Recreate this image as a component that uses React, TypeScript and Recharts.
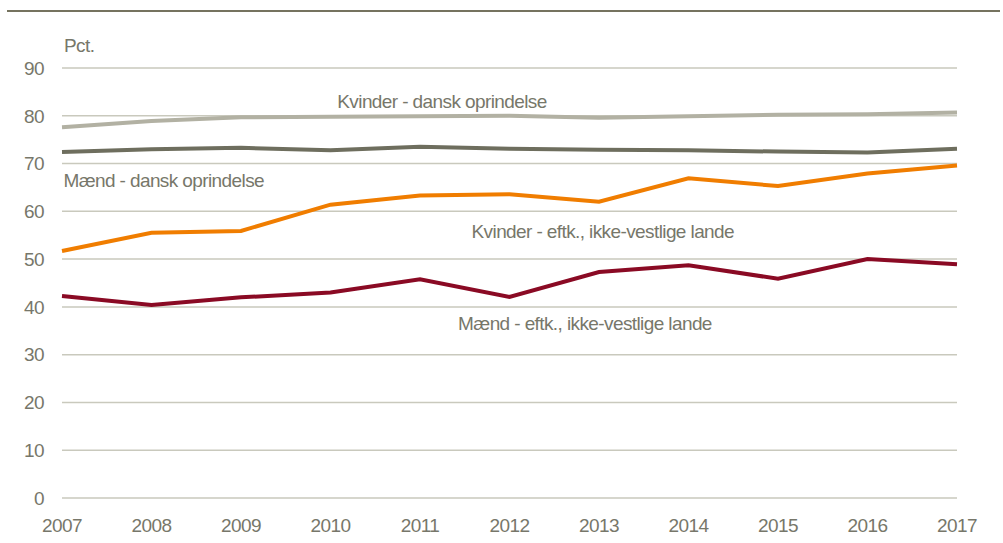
import { LineChart, Line, XAxis, YAxis, CartesianGrid, ReferenceDot } from "recharts";

const years = [2007, 2008, 2009, 2010, 2011, 2012, 2013, 2014, 2015, 2016, 2017];
const kvinderDansk = [77.6, 78.9, 79.7, 79.8, 79.9, 80.0, 79.6, 79.9, 80.2, 80.3, 80.7];
const maendDansk = [72.4, 73.0, 73.3, 72.8, 73.5, 73.1, 72.9, 72.8, 72.5, 72.3, 73.1];
const kvinderIkkeVest = [51.7, 55.5, 55.9, 61.4, 63.3, 63.6, 62.0, 66.9, 65.3, 67.9, 69.6];
const maendIkkeVest = [42.3, 40.4, 42.0, 43.0, 45.8, 42.1, 47.3, 48.7, 45.9, 50.0, 48.9];
const yTicks = [0, 10, 20, 30, 40, 50, 60, 70, 80, 90];

const seriesLabels = [
  { text: "Kvinder - dansk oprindelse", x: 2010.02, y: 83.1 },
  { text: "Mænd - dansk oprindelse", x: 2006.96, y: 66.6 },
  { text: "Kvinder - eftk., ikke-vestlige lande", x: 2011.52, y: 55.9 },
  { text: "Mænd - eftk., ikke-vestlige lande", x: 2011.37, y: 36.6 },
];

const data = years.map((year, i) => ({
  year,
  kd: kvinderDansk[i],
  md: maendDansk[i],
  kv: kvinderIkkeVest[i],
  mv: maendIkkeVest[i],
}));

const font = "'Liberation Sans Narrow', 'Arial Narrow', 'Liberation Sans', sans-serif";
const textGray = "#77776a";
const tightText = { fill: textGray, fontSize: 19, fontFamily: font, letterSpacing: -0.6 };

export default function App() {
  return (
    <div style={{ position: "absolute", left: 0, top: 0, width: 1003, height: 543, background: "#fff", fontFamily: font }}>
      <div style={{ position: "absolute", left: 7, right: 3, top: 10, height: 2, background: "#75735f" }} />
      <div style={{ position: "absolute", left: 64, top: 35, fontSize: 19, letterSpacing: -0.6, color: textGray }}>Pct.</div>
      <LineChart width={1003} height={543} data={data} margin={{ top: 68, right: 46, bottom: 0, left: 12 }}>
        <CartesianGrid vertical={false} stroke="#c9c9bd" strokeWidth={1.5} />
        <XAxis
          dataKey="year"
          type="number"
          domain={[2007, 2017]}
          ticks={years}
          axisLine={false}
          tickLine={false}
          height={45}
          tick={tightText}
          tickMargin={15}
        />
        <YAxis
          domain={[0, 90]}
          ticks={yTicks}
          axisLine={false}
          tickLine={false}
          width={50}
          tick={tightText}
          tickMargin={12}
        />
        <Line dataKey="kd" stroke="#b2b1a3" strokeWidth={4} dot={false} isAnimationActive={false} />
        <Line dataKey="md" stroke="#6e6e5e" strokeWidth={4} dot={false} isAnimationActive={false} />
        <Line dataKey="kv" stroke="#f07d00" strokeWidth={4} dot={false} isAnimationActive={false} />
        <Line dataKey="mv" stroke="#8a0a24" strokeWidth={4} dot={false} isAnimationActive={false} />
        {seriesLabels.map((l) => (
          <ReferenceDot
            key={l.text}
            x={l.x}
            y={l.y}
            r={0}
            fill="none"
            stroke="none"
            ifOverflow="visible"
            label={{ value: l.text, position: "right", offset: 5, ...tightText }}
          />
        ))}
      </LineChart>
    </div>
  );
}
